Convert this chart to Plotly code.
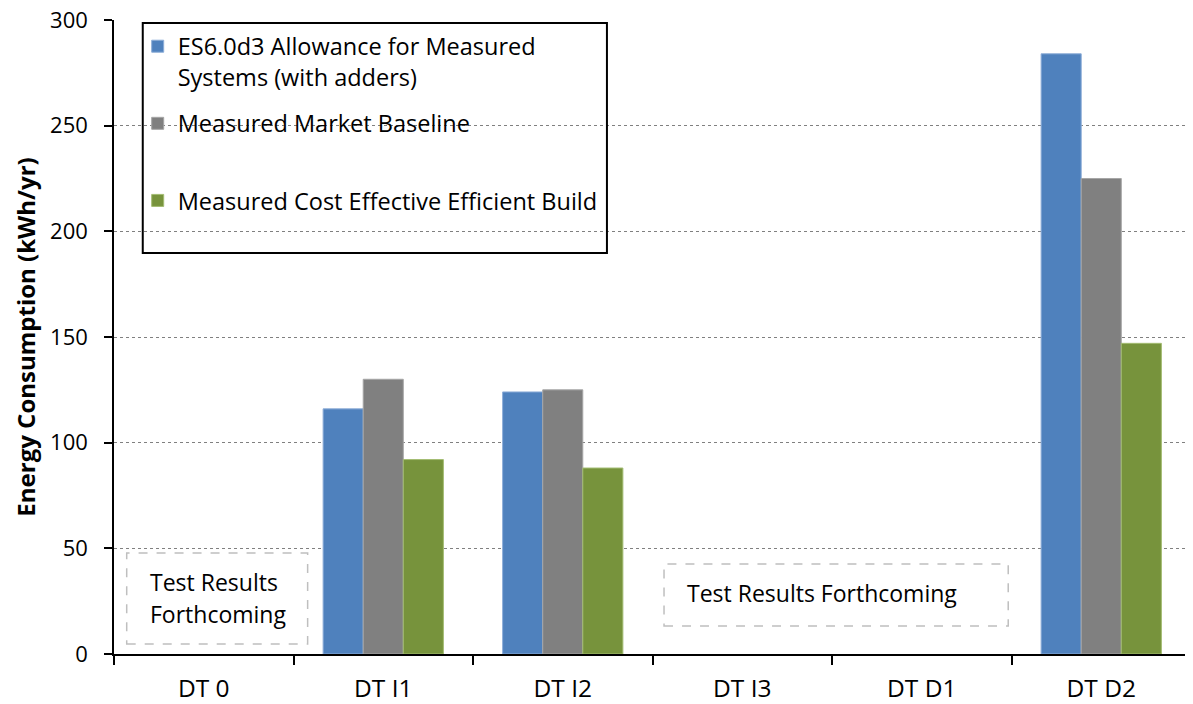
import plotly.graph_objects as go

categories = ["DT 0", "DT I1", "DT I2", "DT I3", "DT D1", "DT D2"]
series_names = [
    "ES6.0d3 Allowance for Measured<br>Systems (with adders)",
    "Measured Market Baseline<br> ",
    "Measured Cost Effective Efficient Build",
]
allowance = [None, 116, 124, None, None, 284]
baseline = [None, 130, 125, None, None, 225]
efficient = [None, 92, 88, None, None, 147]
colors = ["#4F81BD", "#808080", "#77933C"]
edge_colors = ["#8DADD8", "#A6A6A6", "#A3BC72"]
y_ticks = [0, 50, 100, 150, 200, 250, 300]

FONT = "'Open Sans', Lato, sans-serif"

fig = go.Figure()
for name, vals, c, ec in zip(series_names, [allowance, baseline, efficient], colors, edge_colors):
    fig.add_trace(go.Bar(
        x=categories, y=vals, name=name, legendgroup=name,
        marker=dict(color=c, line=dict(color=ec, width=1)),
    ))

fig.update_layout(
    width=1185, height=696,
    margin=dict(l=106, r=2, t=12, b=50, autoexpand=False),
    paper_bgcolor="white", plot_bgcolor="white",
    barmode="group", bargap=0.33, bargroupgap=0,
    font=dict(family=FONT, color="black"),
    showlegend=True,
    legend=dict(
        x=0.022, y=0.993, xanchor="left", yanchor="top",
        bgcolor="rgba(0,0,0,0)", borderwidth=0,
        font=dict(family=FONT, size=23.5, color="black"),
        tracegroupgap=13, valign="top", traceorder="grouped",
    ),
    xaxis=dict(
        type="category", automargin=False,
        showline=True, linecolor="black", linewidth=1.5,
        ticks="outside", tickson="boundaries", ticklen=9, tickcolor="black", tickwidth=1.5,
        tickfont=dict(family=FONT, size=24.5, color="black"),
        ticklabelstandoff=12,
        showgrid=False, zeroline=False,
    ),
    yaxis=dict(
        range=[0, 300], tickvals=y_ticks, automargin=False,
        ticklabeloverflow="allow",
        showline=True, linecolor="black", linewidth=1.5,
        ticks="outside", ticklen=8, tickcolor="black", tickwidth=1.5,
        tickfont=dict(family=FONT, size=22, color="black"),
        ticklabelstandoff=12,
        showgrid=True, gridcolor="#808080", gridwidth=1, griddash="dot",
        zeroline=False,
        title=dict(text="<b>Energy Consumption (kWh/yr)</b>",
                   font=dict(family=FONT, size=24, color="black"), standoff=8),
    ),
)

# legend frame
fig.add_shape(type="rect", xref="paper", yref="paper",
              x0=0.0267, x1=0.4577, y0=0.6325, y1=0.9953,
              line=dict(color="black", width=2), fillcolor="rgba(0,0,0,0)", layer="above")

# "Test Results Forthcoming" boxes
box_line = dict(color="#BFBFBF", width=1.5, dash="dash")
fig.add_shape(type="rect", xref="paper", yref="paper",
              x0=0.0118, x1=0.1798, y0=0.0158, y1=0.1593, line=box_line)
fig.add_shape(type="rect", xref="paper", yref="paper",
              x0=0.5107, x1=0.8303, y0=0.0442, y1=0.1420, line=box_line)

note_font = dict(family=FONT, size=23, color="black")
fig.add_annotation(text="Test Results", xref="paper", yref="paper",
                   x=0.0313, y=(654 - 582) / 634, xanchor="left", yanchor="middle",
                   showarrow=False, font=note_font)
fig.add_annotation(text="Forthcoming", xref="paper", yref="paper",
                   x=0.0313, y=(654 - 614) / 634, xanchor="left", yanchor="middle",
                   showarrow=False, font=note_font)
fig.add_annotation(text="Test Results Forthcoming", xref="paper", yref="paper",
                   x=(685 - 114.3) / 1076.4, y=(654 - 593) / 634, xanchor="left", yanchor="middle",
                   showarrow=False, font=note_font)

fig.write_html("out.html")
